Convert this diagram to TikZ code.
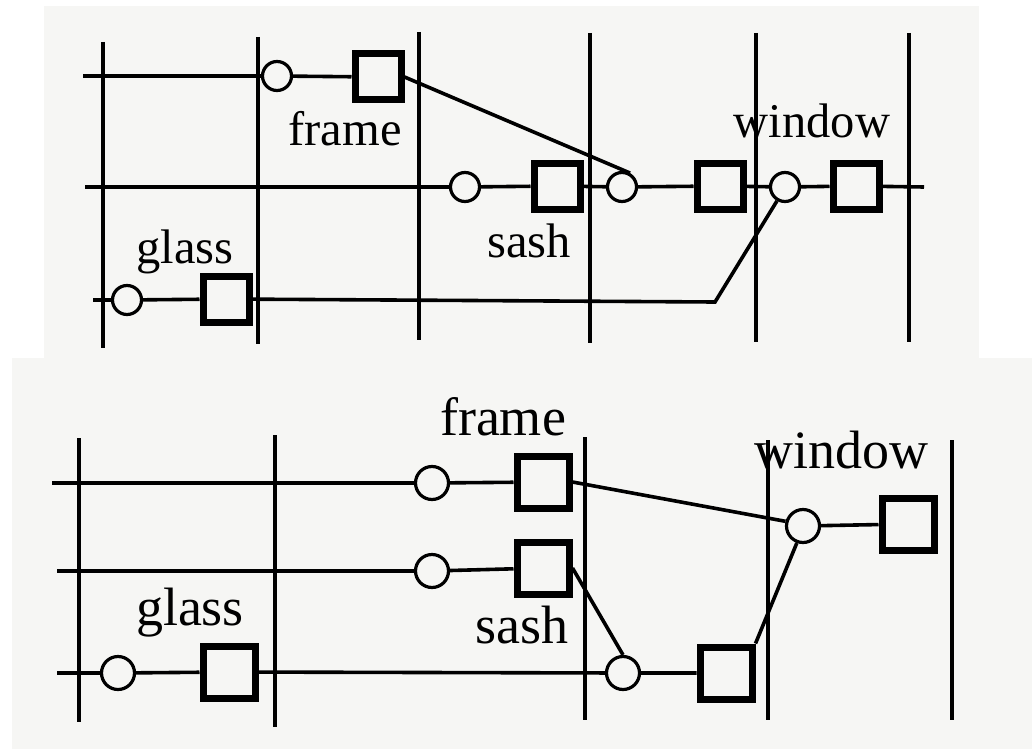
\documentclass[tikz,border=0pt]{standalone}
\usepackage{fontspec}
\setmainfont{Liberation Serif}
\definecolor{paper}{RGB}{246,246,244}
\begin{document}
\begin{tikzpicture}[x=1pt,y=-1pt,
  wire/.style={line width=3.6pt},
  grid/.style={line width=3.8pt},
  circT/.style={circle,draw,line width=3.2pt,fill=paper,minimum size=29pt,inner sep=0pt},
  circB/.style={circle,draw,line width=3.2pt,fill=paper,minimum size=33pt,inner sep=0pt},
  sqT/.style={rectangle,draw,line width=7pt,fill=paper,minimum size=46pt,inner sep=0pt},
  sqB/.style={rectangle,draw,line width=7pt,fill=paper,minimum size=52pt,inner sep=0pt},
  lblT/.style={anchor=base,inner sep=0pt,font=\fontsize{48.5}{58}\selectfont},
  lblB/.style={anchor=base,inner sep=0pt,font=\fontsize{54}{64}\selectfont}]
\useasboundingbox (0,0) rectangle (1032,749);
\fill[white] (0,0) rectangle (1032,749);
% panel backgrounds
\fill[paper] (44,6) rectangle (979,358);
\fill[paper] (12,358) rectangle (1032,749);

% ===== top panel =====
\draw[grid] (103,42) -- (103,348);
\draw[grid] (258,37) -- (258,344);
\draw[grid] (419,32) -- (419,340);
\draw[grid] (590,33) -- (590,343);
\draw[grid] (756,33) -- (756,342);
\draw[grid] (909,33) -- (909,342);

\coordinate (t1s) at (83,76);
\coordinate (t2s) at (85,187);
\coordinate (t2e) at (924,187);
\coordinate (t3s) at (93,300);
\coordinate (tbend) at (715,302);

\node[circT] (tc1) at (277,76) {};
\node[sqT] (tframe) at (378,77) {};
\node[circT] (tc2) at (465,187) {};
\node[sqT] (tsash) at (557,186) {};
\node[circT] (tc3) at (622,187) {};
\node[sqT] (tsq2) at (720,186) {};
\node[circT] (tc4) at (785,187) {};
\node[sqT] (tsq3) at (856,186) {};
\node[circT] (tc5) at (127,300) {};
\node[sqT] (tglass) at (226,299) {};

\draw[wire] (t1s) -- (tc1) -- (tframe);
\draw[wire] (tframe.east) -- (tc3.60);
\draw[wire] (t2s) -- (tc2) -- (tsash) -- (tc3) -- (tsq2) -- (tc4) -- (tsq3) -- (t2e);
\draw[wire] (t3s) -- (tc5) -- (tglass) -- (tbend) -- (tc4.240);

\node[lblT] (tlframe) at (345,145) {frame};
\node[lblT] (tlglass) at (185,263) {glass};
\node[lblT] (tlsash) at (529,257) {sash};
\node[lblT] (tlwindow) at (812,137) {window};

% ===== bottom panel =====
\draw[grid] (79,438) -- (79,722);
\draw[grid] (275,435) -- (275,727);
\draw[grid] (585,437) -- (585,720);
\draw[grid] (768,440) -- (768,720);
\draw[grid] (952,440) -- (952,720);

\coordinate (b1s) at (52,483);
\coordinate (b2s) at (57,571);
\coordinate (b3s) at (57,673);

\node[circB] (bc1) at (432,483) {};
\node[sqB] (bframe) at (543,482) {};
\node[circB] (bc2) at (432,571) {};
\node[sqB] (bsash) at (543,568) {};
\node[circB] (bc3) at (118,673) {};
\node[sqB] (bglass) at (229,672) {};
\node[circB] (bc4) at (623,673) {};
\node[sqB] (bsq) at (726,673) {};
\node[circB] (bcw) at (803,526) {};
\node[sqB] (bsqw) at (908,524) {};

\draw[wire] (b1s) -- (bc1) -- (bframe);
\draw[wire] (bframe.east) -- (bcw.165);
\draw[wire] (b2s) -- (bc2) -- (bsash);
\draw[wire] (bsash.east) -- (bc4.north);
\draw[wire] (b3s) -- (bc3) -- (bglass) -- (bc4) -- (bsq);
\draw[wire] (bsq.north east) -- (bcw.250);
\draw[wire] (bcw) -- (bsqw);

\node[lblB] (blframe) at (503,435) {frame};
\node[lblB] (blwindow) at (841,468) {window};
\node[lblB] (blglass) at (190,625) {glass};
\node[lblB] (blsash) at (522,643) {sash};
\end{tikzpicture}
\end{document}
